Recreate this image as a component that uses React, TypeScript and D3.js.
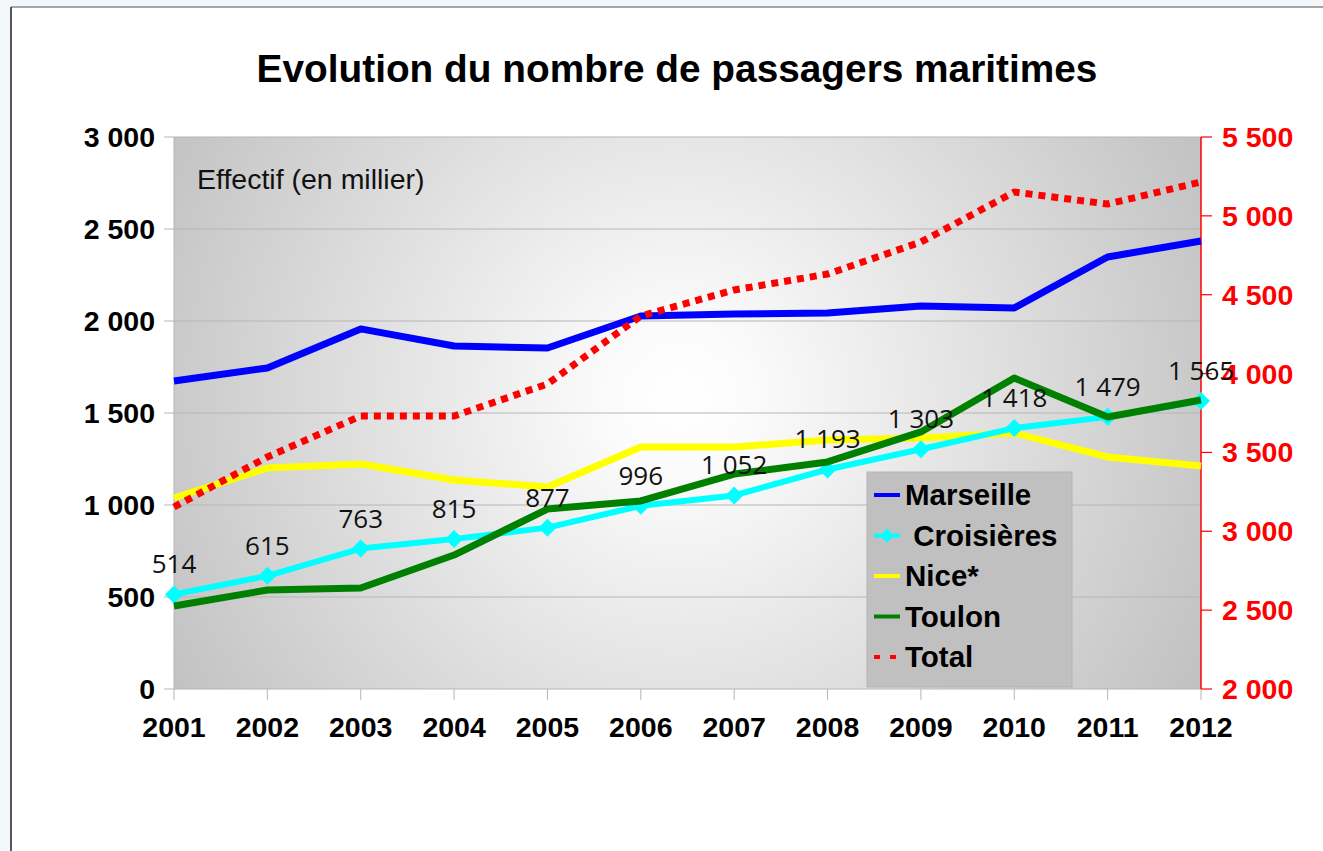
import React from 'react';
import * as d3 from 'd3';

// années et séries (en milliers de passagers)
const years = ['2001', '2002', '2003', '2004', '2005', '2006', '2007', '2008', '2009', '2010', '2011', '2012'];
const marseille = [1674, 1745, 1957, 1864, 1853, 2027, 2038, 2043, 2082, 2071, 2348, 2435];
const croisieres = [514, 615, 763, 815, 877, 996, 1052, 1193, 1303, 1418, 1479, 1565];
const nice = [1038, 1201, 1223, 1136, 1098, 1315, 1315, 1353, 1364, 1391, 1261, 1212];
const toulon = [451, 538, 549, 728, 978, 1022, 1168, 1234, 1397, 1690, 1478, 1571];
const total = [3154, 3471, 3731, 3731, 3934, 4365, 4530, 4631, 4834, 5151, 5075, 5215];

const leftTicks = [0, 500, 1000, 1500, 2000, 2500, 3000];
const rightTicks = [2000, 2500, 3000, 3500, 4000, 4500, 5000, 5500];

const legendItems = [
    { name: 'Marseille', color: '#0000ff', dash: null, marker: false },
    { name: ' Croisières', color: '#00ffff', dash: null, marker: true },
    { name: 'Nice*', color: '#ffff00', dash: null, marker: false },
    { name: 'Toulon', color: '#008000', dash: null, marker: false },
    { name: 'Total', color: '#ff0000', dash: '6,10', marker: false }
];

const fmt = (v: number) => {
    const s = String(v);
    return s.length > 3 ? s.slice(0, s.length - 3) + ' ' + s.slice(-3) : s;
};

const diamond = (x: number, y: number, r: number) =>
    `M${x},${y - r}L${x + r},${y}L${x},${y + r}L${x - r},${y}Z`;

export default function App() {
    const W = 1323, H = 851;
    const left = 174, right = 1201, top = 137, bottom = 689;

    const x = d3.scalePoint<string>().domain(years).range([left, right]);
    const y = d3.scaleLinear().domain([0, 3000]).range([bottom, top]);
    const y2 = d3.scaleLinear().domain([2000, 5500]).range([bottom, top]);

    const line = d3.line<number>().x((d, i) => x(years[i]) as number).y(d => y(d));
    const line2 = d3.line<number>().x((d, i) => x(years[i]) as number).y(d => y2(d));

    const axisFont = '"Liberation Sans", Arial, sans-serif';

    return (
        <svg width={W} height={H} style={{ position: 'absolute', left: 0, top: 0 }}>
            <defs>
                <radialGradient id="bg" gradientUnits="userSpaceOnUse" cx={680} cy={400} r={600}>
                    <stop offset="0" stopColor="#ffffff" />
                    <stop offset="0.12" stopColor="#fbfbfb" />
                    <stop offset="1" stopColor="#c0c0c0" />
                </radialGradient>
            </defs>
            <rect x={0} y={0} width={W} height={H} fill="#f3f7fa" />
            <rect x={11} y={7} width={W - 11} height={H - 7} fill="#ffffff" />
            <line x1={11} y1={7} x2={W} y2={7} stroke="#8a8a8a" strokeWidth={1.5} />
            <line x1={11} y1={7} x2={11} y2={H} stroke="#222" strokeWidth={1.5} />

            <text x={677} y={82} textAnchor="middle" fontFamily={axisFont} fontWeight="bold" fontSize={38.8}>
                Evolution du nombre de passagers maritimes
            </text>

            <rect x={left} y={top} width={right - left} height={bottom - top} fill="url(#bg)" />
            {leftTicks.map(t => (
                <line key={t} x1={left} x2={right} y1={y(t)} y2={y(t)} stroke="#b5b5b5" strokeWidth={1.2} />
            ))}
            <line x1={left} y1={top} x2={left} y2={bottom} stroke="#b5b5b5" />

            {/* axe gauche */}
            {leftTicks.map(t => (
                <g key={t}>
                    <line x1={164} x2={left} y1={y(t)} y2={y(t)} stroke="#b5b5b5" />
                    <text x={155} y={y(t) + 10} textAnchor="end" fontFamily={axisFont} fontWeight="bold" fontSize={28.5}>
                        {fmt(t)}
                    </text>
                </g>
            ))}
            {/* axe des années */}
            {years.map(yr => (
                <g key={yr}>
                    <line x1={x(yr)} x2={x(yr)} y1={bottom} y2={bottom + 11} stroke="#b5b5b5" />
                    <text x={x(yr)} y={737} textAnchor="middle" fontFamily={axisFont} fontWeight="bold" fontSize={28.5}>
                        {yr}
                    </text>
                </g>
            ))}
            {/* axe droit */}
            <line x1={right} y1={top} x2={right} y2={bottom} stroke="#ff0000" strokeWidth={1.5} />
            {rightTicks.map(t => (
                <g key={t}>
                    <line x1={right} x2={right + 11} y1={y2(t)} y2={y2(t)} stroke="#ff0000" strokeWidth={1.2} />
                    <text x={1222} y={y2(t) + 10} fontFamily={axisFont} fontWeight="bold" fontSize={28.5} fill="#ff0000">
                        {fmt(t)}
                    </text>
                </g>
            ))}

            <text x={197} y={189} fontFamily={axisFont} fontSize={28.5} fill="#111">Effectif (en millier)</text>

            <path d={line(marseille) as string} fill="none" stroke="#0000ff" strokeWidth={7} strokeLinejoin="round" />
            <path d={line(nice) as string} fill="none" stroke="#ffff00" strokeWidth={7} strokeLinejoin="round" />
            <path d={line(croisieres) as string} fill="none" stroke="#00ffff" strokeWidth={6} strokeLinejoin="round" />
            {croisieres.map((v, i) => (
                <path key={i} d={diamond(x(years[i]) as number, y(v), 9)} fill="#00ffff" />
            ))}
            <path d={line(toulon) as string} fill="none" stroke="#008000" strokeWidth={7} strokeLinejoin="round" />
            <path d={line2(total) as string} fill="none" stroke="#ff0000" strokeWidth={7} strokeDasharray="7,6" />

            {croisieres.map((v, i) => (
                <text key={i} x={x(years[i])} y={y(v) - 21} textAnchor="middle"
                      fontFamily='"Open Sans", "DejaVu Sans", sans-serif' fontSize={26} fill="#111">
                    {fmt(v)}
                </text>
            ))}

            {/* légende */}
            <rect x={867} y={472} width={205} height={215} fill="#c0c0c0" stroke="#b3b3b3" />
            {legendItems.map((it, i) => {
                const ly = 495 + i * 40.5;
                return (
                    <g key={it.name}>
                        <line x1={874} x2={900} y1={ly} y2={ly} stroke={it.color} strokeWidth={4}
                              strokeDasharray={it.dash ? it.dash : undefined} />
                        {it.marker && <path d={diamond(887, ly, 7)} fill={it.color} />}
                        <text x={905} y={ly + 10} fontFamily={axisFont} fontWeight="bold" fontSize={29.5}
                              style={{ whiteSpace: 'pre' }}>
                            {it.name}
                        </text>
                    </g>
                );
            })}
        </svg>
    );
}
